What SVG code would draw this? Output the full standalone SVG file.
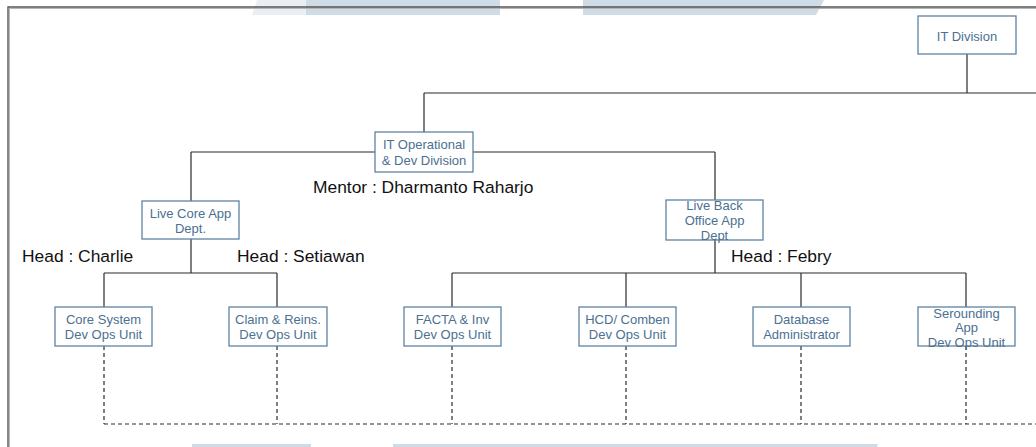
<svg xmlns="http://www.w3.org/2000/svg" width="1036" height="447" viewBox="0 0 1036 447">
<style>
.bx{fill:#fff;stroke:#5f83a3;stroke-width:1.3}
.bt{font-family:"Liberation Sans",Arial,sans-serif;font-size:13px;fill:#4b7091;text-anchor:middle}
.hd{font-family:"Liberation Sans",Arial,sans-serif;font-size:17.4px;fill:#111}
.ln{fill:none;stroke:#2b2b2b;stroke-width:1.2}
.ds{fill:none;stroke:#2b2b2b;stroke-width:1.2;stroke-dasharray:4 3}
.wm{fill:#cfdbe5}
.wl{fill:#e9eff4}
</style>
<rect width="1036" height="447" fill="#fff"/>
<g id="watermark">
<polygon class="wl" points="257,0 306,0 306,15 252,15"/>
<rect class="wm" x="306" y="0" width="194" height="15"/>
<polygon class="wm" points="583,0 824,0 816,15 583,15"/>
<rect class="wm" x="192" y="444" width="119" height="3"/>
<polygon class="wm" points="393,444 878,444 877,447 393,447"/>
</g>
<g id="frame">
<path d="M8.5,447 V7.5 H1036" fill="none" stroke="#b5b5b5" stroke-width="1" transform="translate(1,1)"/>
<path d="M8,447 V7 H1036" fill="none" stroke="#555" stroke-width="1.4"/>
</g>
<g id="connectors">
<path class="ln" d="M967,54 V93 M424,93 H1036 M424,93 V132"/>
<path class="ln" d="M191,152 H715 M191,152 V201 M715,152 V200"/>
<path class="ln" d="M191,239 V273 M104,273 H277 M104,273 V307 M277,273 V307"/>
<path class="ln" d="M715,240 V273 M452,273 H966 M452,273 V307 M626,273 V307 M801,273 V307 M966,273 V307"/>
<path class="ds" d="M104,346 V424 M277,346 V424 M452,346 V424 M626,346 V424 M801,346 V424 M966,346 V424 M104,424 H1036"/>
</g>
<g id="it-division">
<rect class="bx" x="918" y="16" width="98" height="38"/>
<text class="bt" x="967" y="40.5">IT Division</text>
</g>
<g id="it-operational">
<rect class="bx" x="375" y="132" width="98" height="40"/>
<text class="bt" x="424" y="148.5">IT Operational</text>
<text class="bt" x="424" y="164.5">&amp; Dev Division</text>
</g>
<g id="mentor">
<text class="hd" x="313" y="193">Mentor : Dharmanto Raharjo</text>
</g>
<g id="live-core">
<rect class="bx" x="142" y="201" width="97" height="38"/>
<text class="bt" x="190.5" y="217.5">Live Core App</text>
<text class="bt" x="190.5" y="232.5">Dept.</text>
</g>
<g id="live-back">
<rect class="bx" x="666" y="200" width="97" height="40"/>
<text class="bt" x="714.5" y="209.5">Live Back</text>
<text class="bt" x="714.5" y="225">Office App</text>
<text class="bt" x="714.5" y="240">Dept</text>
</g>
<g id="heads">
<text class="hd" x="22" y="262">Head : Charlie</text>
<text class="hd" x="237" y="262">Head : Setiawan</text>
<text class="hd" x="731" y="262">Head : Febry</text>
</g>
<g id="core-system">
<rect class="bx" x="55" y="307" width="97" height="39"/>
<text class="bt" x="103.5" y="323.5">Core System</text>
<text class="bt" x="103.5" y="338.5">Dev Ops Unit</text>
</g>
<g id="claim-reins">
<rect class="bx" x="229" y="307" width="98" height="39"/>
<text class="bt" x="278" y="323.5">Claim &amp; Reins.</text>
<text class="bt" x="278" y="338.5">Dev Ops Unit</text>
</g>
<g id="facta-inv">
<rect class="bx" x="404" y="307" width="97" height="39"/>
<text class="bt" x="452.5" y="323.5">FACTA &amp; Inv</text>
<text class="bt" x="452.5" y="338.5">Dev Ops Unit</text>
</g>
<g id="hcd-comben">
<rect class="bx" x="579" y="307" width="97" height="39"/>
<text class="bt" x="627.5" y="323.5">HCD/ Comben</text>
<text class="bt" x="627.5" y="338.5">Dev Ops Unit</text>
</g>
<g id="database-admin">
<rect class="bx" x="753" y="307" width="97" height="39"/>
<text class="bt" x="801.5" y="323.5">Database</text>
<text class="bt" x="801.5" y="338.5">Administrator</text>
</g>
<g id="serounding-app">
<rect class="bx" x="918" y="307" width="97" height="39"/>
<text class="bt" x="966.5" y="317.5">Serounding</text>
<text class="bt" x="966.5" y="332">App</text>
<text class="bt" x="966.5" y="346.5">Dev Ops Unit</text>
</g>
</svg>
